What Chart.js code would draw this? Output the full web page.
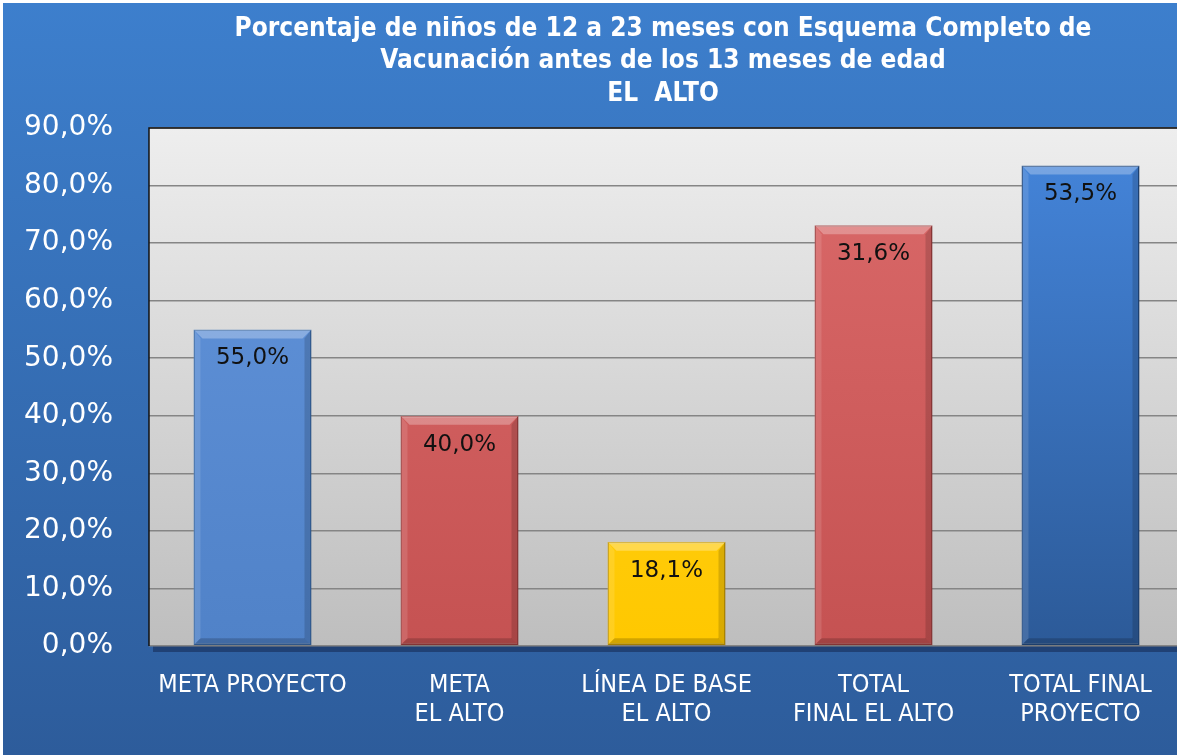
<!DOCTYPE html>
<html><head><meta charset="utf-8">
<script src="https://cdn.jsdelivr.net/npm/chart.js@4/dist/chart.umd.min.js"></script>
<style>html,body{margin:0;padding:0;overflow:hidden;background:#2e5f9e}#wrap{width:1192px;height:755px}</style>
</head><body><div id="wrap"><canvas id="c" width="1192" height="755"></canvas></div>
<script>
const categories = [["META PROYECTO"], ["META", "EL ALTO"], ["LÍNEA DE BASE", "EL ALTO"], ["TOTAL", "FINAL EL ALTO"], ["TOTAL FINAL", "PROYECTO"]];
const barValues = [55.0, 40.0, 18.1, 73.1, 83.5];
const valueLabels = ["55,0%", "40,0%", "18,1%", "31,6%", "53,5%"];
const titleLines = ["Porcentaje de niños de 12 a 23 meses con Esquema Completo de", "Vacunación antes de los 13 meses de edad", "EL  ALTO"];
const yTicks = [0, 10, 20, 30, 40, 50, 60, 70, 80, 90];

const barTop = ["#6395dc", "#db6a6a", "#ffd426", "#db6a6a", "#4586dc"];
const barBottom = ["#5082c8", "#c55252", "#ffc800", "#c55252", "#2c5a98"];
const barBorder = ["#3a6aa8", "#a04040", "#c89a00", "#a04040", "#234c84"];
const NARROW = "'Liberation Sans Narrow','DejaVu Sans Condensed',sans-serif";

const bgPlugin = {
  id: 'bg',
  beforeDraw(chart) {
    const {ctx, chartArea: a, width, height} = chart;
    ctx.save();
    ctx.fillStyle = '#ffffff';
    ctx.fillRect(0, 0, width, height);
    let g = ctx.createLinearGradient(0, 0, 0, height);
    g.addColorStop(0, '#3d7fcd');
    g.addColorStop(1, '#2d5c9b');
    ctx.fillStyle = g;
    ctx.fillRect(3, 3, width, height);
    ctx.fillStyle = 'rgba(20,40,80,0.55)';
    ctx.fillRect(a.left + 4, a.top + 4, a.right - a.left, a.bottom - a.top + 2);
    g = ctx.createLinearGradient(0, a.top, 0, a.bottom);
    g.addColorStop(0, '#eeeeee');
    g.addColorStop(1, '#bebebe');
    ctx.fillStyle = g;
    ctx.fillRect(a.left, a.top, a.right - a.left, a.bottom - a.top);
    ctx.restore();
  },
  afterDraw(chart) {
    const {ctx, chartArea: a} = chart;
    ctx.save();
    ctx.strokeStyle = '#111';
    ctx.lineWidth = 1.5;
    ctx.beginPath();
    ctx.moveTo(a.left, a.bottom); ctx.lineTo(a.left, a.top); ctx.lineTo(a.right, a.top);
    ctx.stroke();
    ctx.fillStyle = '#ffffff';
    ctx.textAlign = 'center';
    ctx.textBaseline = 'middle';
    ctx.font = "bold 26px " + NARROW;
    const cx = (a.left + 1177) / 2;
    titleLines.forEach((t, i) => ctx.fillText(t, cx, 29 + i * 32.5));
    ctx.restore();
  }
};

const barDeco = {
  id: 'barDeco',
  afterDatasetsDraw(chart) {
    const {ctx} = chart;
    const meta = chart.getDatasetMeta(0);
    ctx.save();
    meta.data.forEach((bar, i) => {
      const p = bar.getProps(['x', 'y', 'base', 'width'], true);
      const l = p.x - p.width / 2, r = p.x + p.width / 2;
      ctx.fillStyle = 'rgba(255,255,255,0.28)';
      ctx.beginPath();
      ctx.moveTo(l, p.y); ctx.lineTo(r, p.y); ctx.lineTo(r - 9, p.y + 9); ctx.lineTo(l + 9, p.y + 9); ctx.closePath();
      ctx.fill();
      ctx.fillStyle = 'rgba(0,0,0,0.15)';
      ctx.beginPath();
      ctx.moveTo(r, p.y); ctx.lineTo(r, p.base); ctx.lineTo(r - 7, p.base - 7); ctx.lineTo(r - 7, p.y + 9); ctx.closePath();
      ctx.fill();
      ctx.fillStyle = 'rgba(255,255,255,0.12)';
      ctx.beginPath();
      ctx.moveTo(l, p.y); ctx.lineTo(l, p.base); ctx.lineTo(l + 7, p.base - 7); ctx.lineTo(l + 7, p.y + 9); ctx.closePath();
      ctx.fill();
      ctx.fillStyle = 'rgba(0,0,0,0.18)';
      ctx.beginPath();
      ctx.moveTo(l, p.base); ctx.lineTo(r, p.base); ctx.lineTo(r - 7, p.base - 7); ctx.lineTo(l + 7, p.base - 7); ctx.closePath();
      ctx.fill();
      ctx.fillStyle = '#111';
      ctx.font = "23px 'DejaVu Sans', sans-serif";
      ctx.textAlign = 'center';
      ctx.textBaseline = 'middle';
      ctx.fillText(valueLabels[i], p.x, p.y + 29);
    });
    ctx.restore();
  }
};

new Chart(document.getElementById('c'), {
  type: 'bar',
  data: {
    labels: categories,
    datasets: [{
      data: barValues,
      backgroundColor: (ctx) => {
        const chart = ctx.chart, a = chart.chartArea;
        if (!a) return barBottom[ctx.dataIndex];
        const g = chart.ctx.createLinearGradient(0, a.top, 0, a.bottom);
        g.addColorStop(0, barTop[ctx.dataIndex]);
        g.addColorStop(1, barBottom[ctx.dataIndex]);
        return g;
      },
      borderColor: barBorder,
      borderWidth: 1.5,
      borderSkipped: false,
      barPercentage: 0.57,
      categoryPercentage: 1.0
    }]
  },
  options: {
    responsive: false,
    animation: false,
    layout: {padding: {top: 128, right: 8, left: 0, bottom: 0}},
    plugins: {legend: {display: false}, title: {display: false}, tooltip: {enabled: false}},
    scales: {
      x: {
        grid: {display: false, drawTicks: false},
        border: {display: false},
        ticks: {color: '#ffffff', font: {family: NARROW, size: 25, lineHeight: 1.17}, padding: 25, maxRotation: 0, autoSkip: false},
        afterFit(s) { s.height = 109; }
      },
      y: {
        min: 0, max: 90,
        afterBuildTicks(s) { s.ticks = yTicks.map(v => ({value: v})); },
        grid: {color: '#858585', lineWidth: 1.5, drawTicks: false},
        border: {display: false},
        ticks: {color: '#ffffff', font: {family: "'DejaVu Sans', sans-serif", size: 28}, padding: 36,
          callback: (v) => v.toFixed(1).replace('.', ',') + '%'},
        afterFit(s) { s.width = 149; }
      }
    }
  },
  plugins: [bgPlugin, barDeco]
});
</script></body></html>
